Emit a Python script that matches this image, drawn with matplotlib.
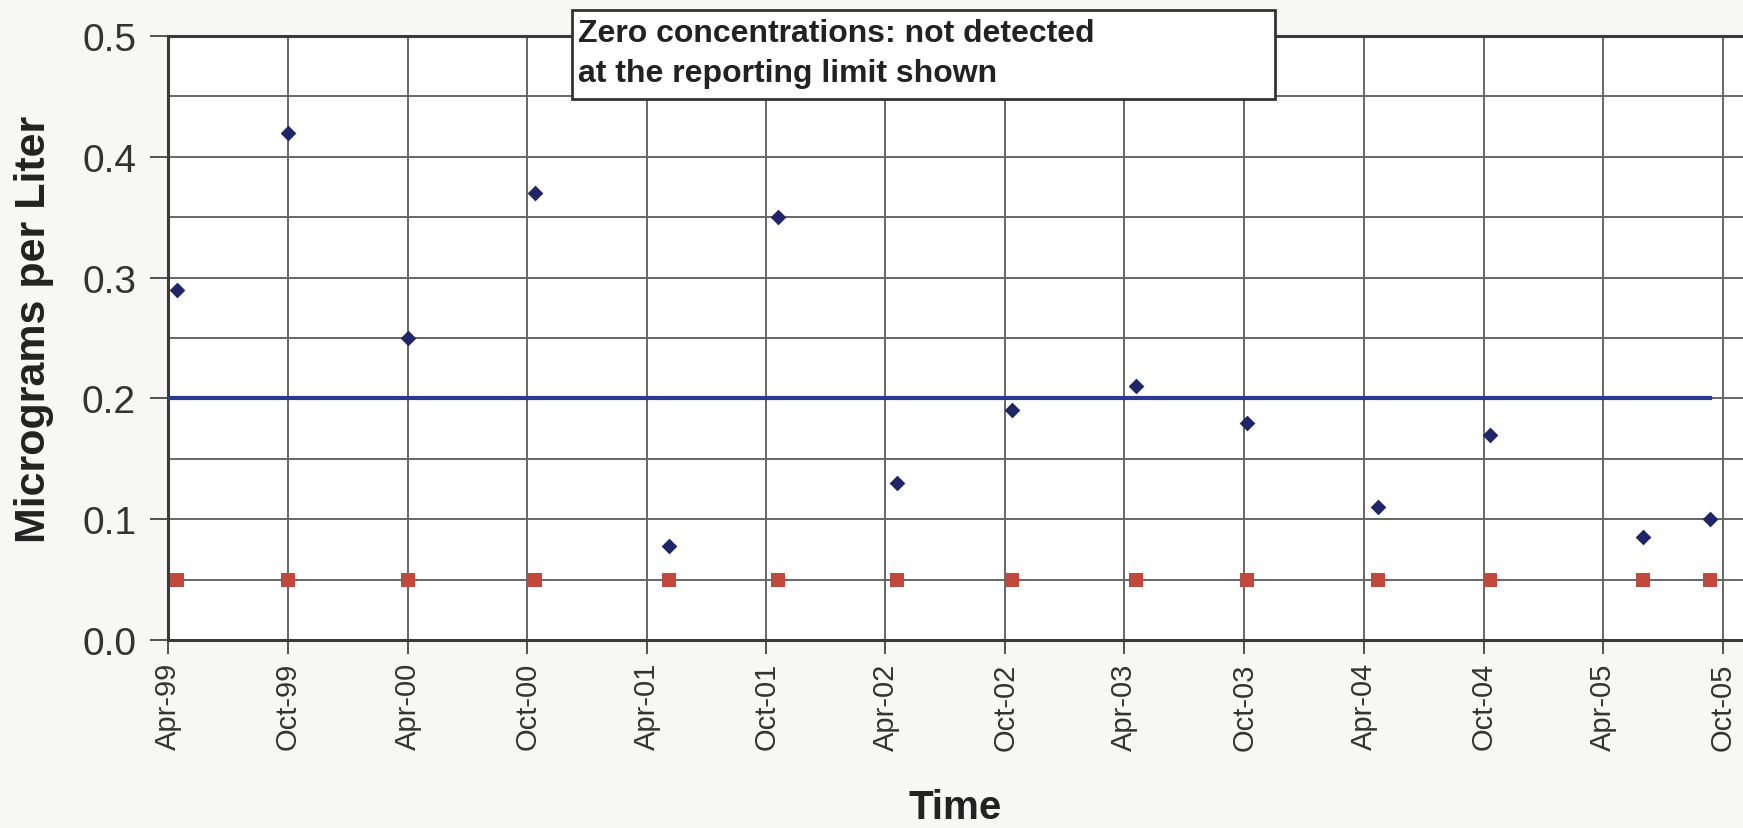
import matplotlib
matplotlib.use("Agg")
import matplotlib.pyplot as plt
import matplotlib.dates as mdates
from matplotlib.patches import Rectangle
from matplotlib.ticker import MultipleLocator
import numpy as np

# sampling events and measured concentrations (ug/L)
sample_dates = ['1999-04-14', '1999-10-02', '2000-04-01', '2000-10-12',
                '2001-05-05', '2001-10-19', '2002-04-19', '2002-10-11',
                '2003-04-19', '2003-10-05', '2004-04-22', '2004-10-10',
                '2005-06-01', '2005-09-12']
concentrations = [0.29, 0.42, 0.25, 0.37, 0.078, 0.35, 0.13, 0.19,
                  0.21, 0.18, 0.11, 0.17, 0.085, 0.10]
reporting_limits = [0.05, 0.05, 0.05, 0.05, 0.05, 0.05, 0.05, 0.05,
                    0.05, 0.05, 0.05, 0.05, 0.05, 0.05]

# cleanup standard
standard_dates = ['1999-04-01', '2005-09-12']
standard_values = [0.2, 0.2]

note_text = 'Zero concentrations: not detected\nat the reporting limit shown'

plt.rcParams['font.family'] = ['Liberation Sans', 'DejaVu Sans']

W, H = 1743, 829
fig = plt.figure(figsize=(W / 100, H / 100), dpi=100, facecolor='#f7f7f5')
ax = fig.add_axes([168 / W, 1 - 641 / H, 1 - 168 / W, (641 - 37) / H])
ax.set_facecolor('white')

dates = np.array(sample_dates, dtype='datetime64[D]')
std_dates = np.array(standard_dates, dtype='datetime64[D]')

ax.plot(std_dates, standard_values, color='#2b3990', lw=3, zorder=3)
ax.scatter(dates, reporting_limits, marker='s', s=105, color='#c0483c',
           zorder=4, linewidths=0)
ax.scatter(dates, concentrations, marker='D', s=64, color='#1f2566',
           zorder=5, linewidths=0)

ax.set_ylim(0, 0.5)
ax.set_xlim(np.datetime64('1999-04-01'), np.datetime64('2005-11-01'))

ax.yaxis.set_major_locator(MultipleLocator(0.1))
ax.yaxis.set_minor_locator(MultipleLocator(0.05))
ax.yaxis.set_major_formatter(plt.FormatStrFormatter('%.1f'))
ax.xaxis.set_major_locator(mdates.MonthLocator(bymonth=[4, 10]))
ax.xaxis.set_major_formatter(mdates.DateFormatter('%b-%y'))

ax.grid(True, which='major', color='#666666', lw=1.4, zorder=1)
ax.grid(True, which='minor', axis='y', color='#666666', lw=1.4, zorder=1)
ax.set_axisbelow(True)

ax.tick_params(axis='y', which='major', labelsize=28, length=13,
               width=1.3, color='#444444', pad=10, labelcolor='#333333')
ax.tick_params(axis='y', which='minor', length=0)
ax.tick_params(axis='x', which='major', labelsize=21, length=10,
               width=1.3, color='#444444', pad=6, labelrotation=90,
               labelcolor='#333333')

for side in ['left', 'bottom', 'top']:
    ax.spines[side].set_color('#3a3a3a')
    ax.spines[side].set_linewidth(2.2)
ax.spines['right'].set_visible(False)

# axis titles placed in figure space
fig.text(34 / W, 1 - 329 / H, 'Micrograms per Liter', fontsize=31,
         fontweight='bold', color='#222222', rotation=90,
         ha='center', va='center')
fig.text(955 / W, 1 - 808 / H, 'Time', fontsize=29, fontweight='bold',
         color='#222222', ha='center', va='center')

# note box above the plot area
box = Rectangle((572 / W, 1 - 100 / H), 703 / W, 89 / H,
                transform=fig.transFigure, facecolor='white',
                edgecolor='#333333', lw=2, zorder=10)
fig.add_artist(box)
fig.text(578 / W, 1 - 54 / H, note_text, fontsize=23, fontweight='bold',
         color='#222222', ha='left', va='center', linespacing=1.45,
         zorder=11)

fig.savefig('out.png', dpi=100, facecolor=fig.get_facecolor())
